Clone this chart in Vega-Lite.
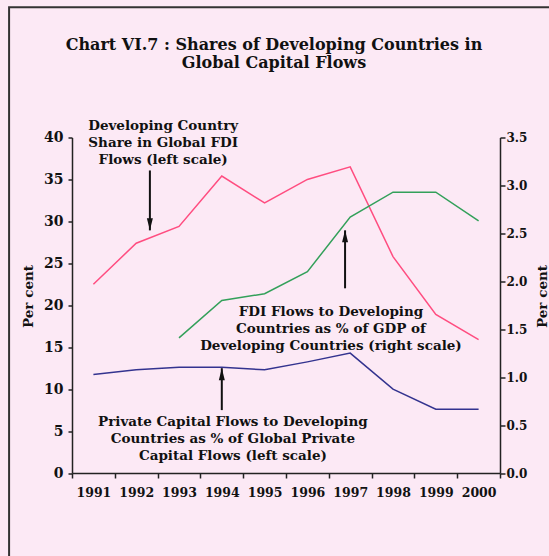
{
  "$schema": "https://vega.github.io/schema/vega-lite/v6.json",
  "width": 428,
  "height": 335.5,
  "autosize": "none",
  "padding": {"left": 72, "top": 137.5, "right": 49, "bottom": 83},
  "background": "#fce9f5",
  "config": {
    "view": {"stroke": null},
    "font": "DejaVu Serif",
    "axis": {
      "labelFont": "DejaVu Serif",
      "labelFontWeight": "bold",
      "labelFontSize": 12,
      "labelColor": "#111",
      "titleFont": "DejaVu Serif",
      "titleFontWeight": "bold",
      "titleFontSize": 13.5,
      "titleColor": "#111",
      "domainColor": "#222",
      "domainWidth": 1.5,
      "tickColor": "#222",
      "tickWidth": 1.5,
      "grid": false
    }
  },
  "title": {
    "text": ["Chart VI.7 : Shares of Developing Countries in", "Global Capital Flows"],
    "font": "DejaVu Serif",
    "fontSize": 16,
    "fontWeight": "bold",
    "color": "#111",
    "anchor": "middle",
    "frame": "group",
    "dx": -12,
    "offset": 0,
    "dy": 65,
    "lineHeight": 18
  },
  "datasets": {
    "series": [
      {"year": 1991, "fdi_share": 22.5, "private_share": 11.75, "fdi_gdp": null},
      {"year": 1992, "fdi_share": 27.4, "private_share": 12.3, "fdi_gdp": null},
      {"year": 1993, "fdi_share": 29.4, "private_share": 12.6, "fdi_gdp": 1.41},
      {"year": 1994, "fdi_share": 35.4, "private_share": 12.6, "fdi_gdp": 1.80},
      {"year": 1995, "fdi_share": 32.2, "private_share": 12.3, "fdi_gdp": 1.87},
      {"year": 1996, "fdi_share": 35.0, "private_share": 13.25, "fdi_gdp": 2.10},
      {"year": 1997, "fdi_share": 36.5, "private_share": 14.3, "fdi_gdp": 2.67},
      {"year": 1998, "fdi_share": 25.8, "private_share": 10.0, "fdi_gdp": 2.93},
      {"year": 1999, "fdi_share": 18.9, "private_share": 7.6, "fdi_gdp": 2.93},
      {"year": 2000, "fdi_share": 15.9, "private_share": 7.6, "fdi_gdp": 2.63}
    ],
    "notes": [
      {"x": 1992.63, "y": 41.43, "label": ["Developing Country", "Share in Global FDI", "Flows (left scale)"]},
      {"x": 1996.55, "y": 19.17, "label": ["FDI Flows to Developing", "Countries as % of GDP of", "Developing Countries (right scale)"]},
      {"x": 1994.26, "y": 6.1, "label": ["Private Capital Flows to Developing", "Countries as % of  Global Private", "Capital Flows (left scale)"]}
    ],
    "arrows": [
      {"x": 1992.32, "from": 36.07, "tip": 28.93, "dir": "down"},
      {"x": 1996.88, "from": 22.02, "tip": 28.93, "dir": "up"},
      {"x": 1994.0, "from": 7.5, "tip": 12.5, "dir": "up"}
    ]
  },
  "resolve": {"scale": {"y": "independent"}, "axis": {"y": "independent"}},
  "layer": [
    {
      "layer": [
        {
          "data": {"values": [{}]},
          "mark": {"type": "rect", "fill": null, "stroke": "#333", "strokeWidth": 2},
          "encoding": {
            "x": {"datum": 1989.03, "type": "quantitative"},
            "x2": {"datum": 2005},
            "y": {"datum": 55.54, "type": "quantitative"},
            "y2": {"datum": -30}
          }
        },
        {
          "data": {"name": "series"},
          "mark": {"type": "line", "color": "#ff4d80", "strokeWidth": 1.5},
          "encoding": {
            "x": {
              "field": "year", "type": "quantitative",
              "scale": {"domain": [1990.5, 2000.5], "nice": false, "zero": false},
              "axis": {
                "title": null,
                "values": [1990.5, 1991.5, 1992.5, 1993.5, 1994.5, 1995.5, 1996.5, 1997.5, 1998.5, 1999.5, 2000.5],
                "labelExpr": "datum.value < 2000 ? format(datum.value + 0.5, 'd') : ''",
                "labelOffset": 21.4,
                "labelFontSize": 12.5,
                "tickSize": 5,
                "labelPadding": 8,
                "labelFlush": false,
                "labelOverlap": false
              }
            },
            "y": {
              "field": "fdi_share", "type": "quantitative",
              "scale": {"domain": [0, 40], "nice": false},
              "axis": {
                "title": "Per cent",
                "titleX": -44,
                "titleY": 158.5,
                "titleAlign": "center",
                "titleBaseline": "middle",
                "titleAngle": 270,
                "values": [0, 5, 10, 15, 20, 25, 30, 35, 40],
                "labelFontSize": 14,
                "tickSize": 4,
                "labelPadding": 5
              }
            }
          }
        },
        {
          "data": {"name": "series"},
          "mark": {"type": "line", "color": "#33338f", "strokeWidth": 1.5},
          "encoding": {
            "x": {"field": "year", "type": "quantitative"},
            "y": {"field": "private_share", "type": "quantitative"}
          }
        },
        {
          "data": {"name": "notes"},
          "mark": {"type": "text", "font": "DejaVu Serif", "fontWeight": "bold", "fontSize": 13.5, "color": "#111", "align": "center", "baseline": "middle", "lineHeight": 17},
          "encoding": {
            "x": {"field": "x", "type": "quantitative"},
            "y": {"field": "y", "type": "quantitative"},
            "text": {"field": "label"}
          }
        },
        {
          "data": {"name": "arrows"},
          "mark": {"type": "rule", "color": "#111", "strokeWidth": 2},
          "encoding": {
            "x": {"field": "x", "type": "quantitative"},
            "y": {"field": "from", "type": "quantitative"},
            "y2": {"field": "tip"}
          }
        },
        {
          "data": {"name": "arrows"},
          "transform": [{"filter": "datum.dir == 'down'"}],
          "mark": {"type": "point", "shape": "M-0.5,-2L0.5,-2L0,0Z", "filled": true, "color": "#111", "size": 144, "opacity": 1},
          "encoding": {
            "x": {"field": "x", "type": "quantitative"},
            "y": {"field": "tip", "type": "quantitative"}
          }
        },
        {
          "data": {"name": "arrows"},
          "transform": [{"filter": "datum.dir == 'up'"}],
          "mark": {"type": "point", "shape": "M-0.5,2L0.5,2L0,0Z", "filled": true, "color": "#111", "size": 144, "opacity": 1},
          "encoding": {
            "x": {"field": "x", "type": "quantitative"},
            "y": {"field": "tip", "type": "quantitative"}
          }
        }
      ]
    },
    {
      "data": {"name": "series"},
      "transform": [{"filter": "datum.fdi_gdp != null"}],
      "mark": {"type": "line", "color": "#33a05a", "strokeWidth": 1.5},
      "encoding": {
        "x": {"field": "year", "type": "quantitative"},
        "y": {
          "field": "fdi_gdp", "type": "quantitative",
          "scale": {"domain": [0, 3.5], "nice": false},
          "axis": {
            "orient": "right",
            "title": "Per cent",
            "titleX": 42,
            "titleY": 158.5,
            "titleAlign": "center",
            "titleBaseline": "middle",
            "titleAngle": 270,
            "values": [0, 0.5, 1, 1.5, 2, 2.5, 3, 3.5],
            "format": ".1f",
            "tickSize": 5,
            "labelPadding": 1
          }
        }
      }
    }
  ]
}
